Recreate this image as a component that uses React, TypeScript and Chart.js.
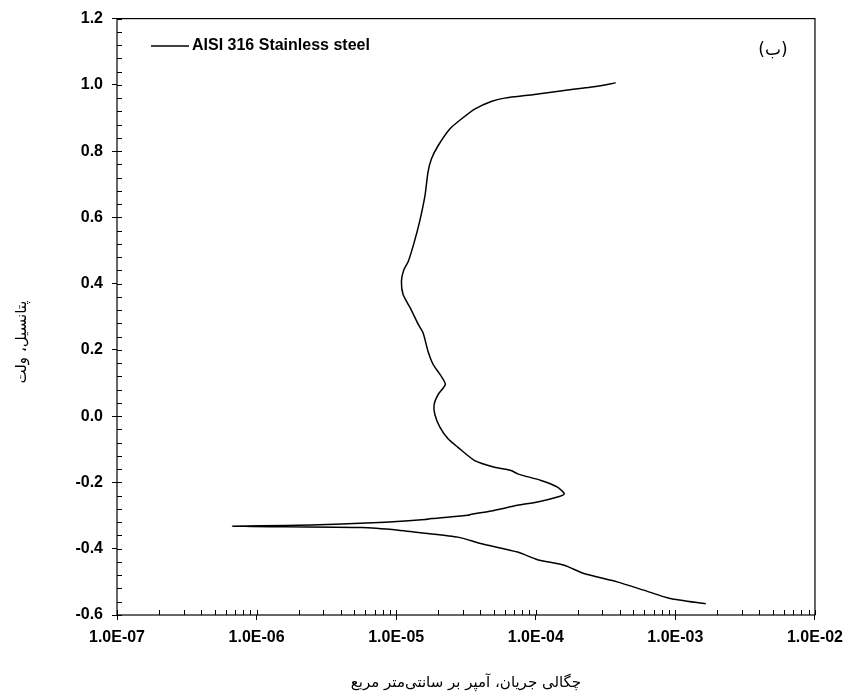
import React, { useEffect, useRef } from "react";
import { Chart, registerables } from "chart.js";

Chart.register(...registerables);

// Potential (V) along the polarization scan
const potential: number[] = [
  -0.566, -0.55, -0.525, -0.5, -0.475, -0.45, -0.433, -0.41, -0.385, -0.365,
  -0.353, -0.344, -0.336, -0.334, -0.332,
  -0.33, -0.326, -0.32, -0.312, -0.309, -0.299, -0.296, -0.286, -0.269, -0.259,
  -0.244, -0.234, -0.214, -0.194, -0.174, -0.164, -0.154, -0.134, -0.094, -0.069,
  -0.034, 0.006, 0.036, 0.066, 0.096, 0.126, 0.156, 0.196, 0.251, 0.277,
  0.327, 0.367, 0.407, 0.44, 0.467, 0.527, 0.592, 0.667, 0.737, 0.777,
  0.817, 0.867, 0.897, 0.927, 0.95, 0.96, 0.971, 0.983, 0.996, 1.006,
];

// Current density (A/cm2) matching each potential
const current: number[] = [
  1.65e-3, 9.16e-4, 5.93e-4, 3.82e-4, 2.21e-4, 1.6e-4, 1.03e-4, 7.41e-5, 4.1e-5, 2.77e-5,
  1.61e-5, 1.04e-5, 5.68e-6, 1.62e-6, 6.73e-7,
  1.62e-6, 3.67e-6, 8.3e-6, 1.61e-5, 1.79e-5, 3.27e-5, 3.45e-5, 4.79e-5, 7.41e-5, 1.03e-4,
  1.43e-4, 1.6e-4, 1.43e-4, 1.09e-4, 7.41e-5, 6.65e-5, 5.06e-5, 3.65e-5, 2.77e-5, 2.36e-5,
  2.06e-5, 1.89e-5, 1.87e-5, 2.0e-5, 2.25e-5, 2.06e-5, 1.84e-5, 1.69e-5, 1.56e-5, 1.44e-5,
  1.26e-5, 1.12e-5, 1.09e-5, 1.13e-5, 1.22e-5, 1.35e-5, 1.48e-5, 1.61e-5, 1.69e-5, 1.79e-5,
  2.0e-5, 2.42e-5, 2.93e-5, 3.65e-5, 4.79e-5, 5.97e-5, 9.76e-5, 1.6e-4, 2.75e-4, 3.74e-4,
];

const xDecades: number[] = [1e-7, 1e-6, 1e-5, 1e-4, 1e-3, 1e-2];
const xTickLabels: string[] = ["1.0E-07", "1.0E-06", "1.0E-05", "1.0E-04", "1.0E-03", "1.0E-02"];
const yTickValues: number[] = [-0.6, -0.4, -0.2, 0.0, 0.2, 0.4, 0.6, 0.8, 1.0, 1.2];
const yTickLabels: string[] = ["-0.6", "-0.4", "-0.2", "0.0", "0.2", "0.4", "0.6", "0.8", "1.0", "1.2"];

const seriesLabel = "AISI 316 Stainless steel";
const panelLabel = "(ب)";
const xTitle = "چگالی جریان، آمپر بر سانتی‌متر مربع";
const yTitle = "پتانسیل، ولت";

const TICK_FONT = "bold 16px 'Liberation Sans', Arial, sans-serif";
const PERSIAN_FONT = "15px 'DejaVu Sans', serif";

const decorPlugin = {
  id: "decor",
  afterDraw(chart: any) {
    const ctx = chart.ctx as CanvasRenderingContext2D;
    const { left, right, top, bottom } = chart.chartArea;
    const xs = chart.scales.x;
    const ys = chart.scales.y;
    ctx.save();
    ctx.strokeStyle = "#000";
    ctx.lineWidth = 1.2;
    // frame
    ctx.strokeRect(left, top, right - left, bottom - top);
    // x inner ticks (major + minor)
    ctx.lineWidth = 1;
    ctx.beginPath();
    for (let d = 0; d < xDecades.length; d++) {
      const base = xDecades[d];
      for (let k = 1; k <= 9; k++) {
        const v = base * k;
        if (v > xDecades[xDecades.length - 1] * 1.0001) break;
        const px = Math.round(xs.getPixelForValue(v)) + 0.5;
        ctx.moveTo(px, bottom);
        ctx.lineTo(px, bottom - 5);
      }
    }
    // y inner ticks every 0.04
    const yMin = yTickValues[0];
    const yMax = yTickValues[yTickValues.length - 1];
    const n = Math.round((yMax - yMin) / 0.04);
    for (let i = 0; i <= n; i++) {
      const v = yMin + i * 0.04;
      const py = Math.round(ys.getPixelForValue(v)) + 0.5;
      ctx.moveTo(left, py);
      ctx.lineTo(left + 5, py);
    }
    ctx.stroke();

    // legend
    ctx.lineWidth = 1.3;
    ctx.beginPath();
    ctx.moveTo(151, 46);
    ctx.lineTo(189, 46);
    ctx.stroke();
    ctx.fillStyle = "#000";
    ctx.font = TICK_FONT;
    ctx.textAlign = "left";
    ctx.textBaseline = "middle";
    ctx.direction = "ltr";
    ctx.fillText(seriesLabel, 192, 46);

    // panel label
    ctx.font = "17px 'DejaVu Sans', serif";
    ctx.direction = "rtl";
    ctx.textAlign = "center";
    ctx.fillText(panelLabel, 773, 51);

    // x title
    ctx.font = PERSIAN_FONT;
    ctx.fillText(xTitle, (left + right) / 2, 683);

    // y title
    ctx.translate(22, 342);
    ctx.rotate(-Math.PI / 2);
    ctx.fillText(yTitle, 0, 0);
    ctx.restore();
  },
};

export default function App() {
  const ref = useRef<HTMLCanvasElement | null>(null);
  useEffect(() => {
    if (!ref.current) return;
    const chart = new Chart(ref.current, {
      type: "scatter",
      data: {
        datasets: [
          {
            label: seriesLabel,
            data: current.map((c, i) => ({ x: c, y: potential[i] })),
            showLine: true,
            borderColor: "#000",
            backgroundColor: "#000",
            borderWidth: 1.5,
            pointRadius: 0,
            tension: 0.2,
          },
        ],
      },
      options: {
        responsive: false,
        animation: false,
        devicePixelRatio: 1,
        layout: { padding: { top: 16, right: 32, left: 0, bottom: 0 } },
        plugins: { legend: { display: false }, tooltip: { enabled: false } },
        scales: {
          x: {
            type: "logarithmic",
            min: xDecades[0],
            max: xDecades[xDecades.length - 1],
            afterBuildTicks: (s: any) => {
              s.ticks = xDecades.map((v) => ({ value: v }));
            },
            afterFit: (s: any) => {
              s.height = 83;
            },
            ticks: {
              autoSkip: false,
              maxRotation: 0,
              minRotation: 0,
              padding: 8,
              color: "#000",
              font: { family: "'Liberation Sans', Arial, sans-serif", size: 16, weight: "bold" },
              callback: (_v: any, i: number) => xTickLabels[i],
            },
            grid: { drawOnChartArea: false, drawTicks: true, tickLength: 5, color: "#000", lineWidth: 1 },
            border: { display: false },
          },
          y: {
            type: "linear",
            min: yTickValues[0],
            max: yTickValues[yTickValues.length - 1],
            afterBuildTicks: (s: any) => {
              s.ticks = yTickValues.map((v) => ({ value: v }));
            },
            afterFit: (s: any) => {
              s.width = 117;
            },
            ticks: {
              padding: 9,
              color: "#000",
              font: { family: "'Liberation Sans', Arial, sans-serif", size: 16, weight: "bold" },
              callback: (_v: any, i: number) => yTickLabels[i],
            },
            grid: { drawOnChartArea: false, drawTicks: true, tickLength: 5, color: "#000", lineWidth: 1 },
            border: { display: false },
          },
        },
      },
      plugins: [decorPlugin],
    });
    return () => chart.destroy();
  }, []);
  return (
    <div style={{ position: "absolute", left: 0, top: 0, width: 851, height: 698, background: "#fff" }}>
      <canvas ref={ref} width={851} height={698} />
    </div>
  );
}
